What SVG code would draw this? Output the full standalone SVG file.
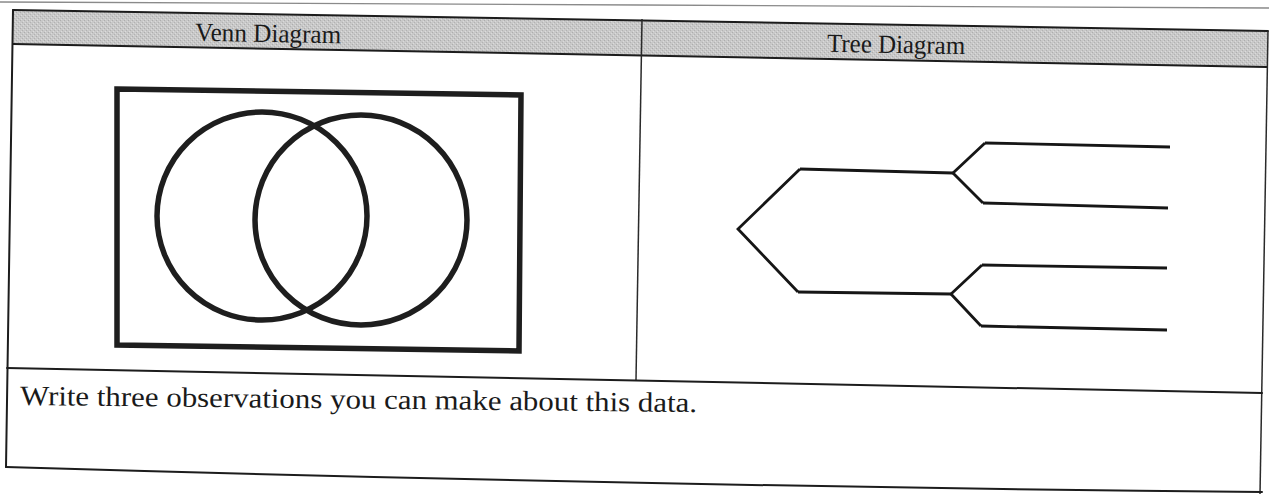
<svg xmlns="http://www.w3.org/2000/svg" width="1269" height="494" viewBox="0 0 1269 494">
  <style>
    .rule { stroke: #1c1c1c; stroke-width: 2; fill: none; stroke-linecap: round; }
    .thin { stroke: #2a2a2a; stroke-width: 1.5; fill: none; }
    .venn { stroke: #1e1e1e; stroke-width: 5.5; fill: none; }
    .tree { stroke: #161616; stroke-width: 2.8; fill: none; stroke-linejoin: miter; stroke-linecap: butt; }
    .hdr { font-family: "Liberation Serif", "DejaVu Serif", serif; font-size: 26px; fill: #1a1a1a; }
    .body { font-family: "Liberation Serif", "DejaVu Serif", serif; font-size: 28px; fill: #1a1a1a; }
  </style>
  <defs>
    <pattern id="dither" width="4" height="4" patternUnits="userSpaceOnUse">
      <rect width="4" height="4" fill="#c8c8c8"/>
      <rect x="0" y="0" width="1" height="1" fill="#adadad"/>
      <rect x="2" y="2" width="1" height="1" fill="#b2b2b2"/>
      <rect x="1" y="3" width="1" height="1" fill="#dcdcdc"/>
      <rect x="3" y="1" width="1" height="1" fill="#dadada"/>
    </pattern>
  </defs>
  <rect width="1269" height="494" fill="#ffffff"/>
  <!-- scan artifact line at top -->
  <path d="M0 2 L640 5 L1269 8" stroke="#8a8a8a" stroke-width="1.3" fill="none"/>

  <g id="header-row">
    <polygon points="13,10 1268,31 1267,67 13,44" fill="url(#dither)"/>
    <g id="venn-header">
      <text class="hdr" x="268" y="42" text-anchor="middle" textLength="146" lengthAdjust="spacingAndGlyphs" transform="rotate(1 268 42)">Venn Diagram</text>
    </g>
    <g id="tree-header">
      <text class="hdr" x="896" y="53" text-anchor="middle" textLength="138" lengthAdjust="spacingAndGlyphs" transform="rotate(1 896 53)">Tree Diagram</text>
    </g>
  </g>

  <g id="table-rules">
    <line class="rule" x1="13" y1="10" x2="1268" y2="31"/>
    <line class="rule" x1="13" y1="44" x2="1267" y2="67"/>
    <line class="rule" x1="13" y1="10" x2="6" y2="467"/>
    <line class="thin" x1="1268" y1="31" x2="1260" y2="494"/>
    <line class="thin" x1="642" y1="19" x2="636" y2="380"/>
    <line class="rule" x1="7" y1="368" x2="1262" y2="393"/>
    <path class="rule" d="M6 467 Q640 486 1262 492"/>
  </g>

  <g id="venn-diagram">
    <polygon class="venn" points="117,89 521,95 519,351 117,345" stroke-width="6"/>
    <ellipse class="venn" cx="262" cy="216" rx="105" ry="104"/>
    <ellipse class="venn" cx="361" cy="220" rx="106" ry="105"/>
  </g>

  <g id="connectors">
    <polyline class="tree" points="800,169 738,229 798,292"/>
    <line class="tree" x1="800" y1="169" x2="953" y2="173"/>
    <line class="tree" x1="798" y1="292" x2="951" y2="294"/>
    <polyline class="tree" points="985,143 953,173 983,203"/>
    <line class="tree" x1="985" y1="143" x2="1170" y2="147"/>
    <line class="tree" x1="983" y1="203" x2="1168" y2="208"/>
    <polyline class="tree" points="982,265 951,294 981,326"/>
    <line class="tree" x1="982" y1="265" x2="1167" y2="268"/>
    <line class="tree" x1="981" y1="326" x2="1167" y2="330"/>
  </g>

  <g id="prompt">
    <text class="body" x="20" y="405" textLength="677" lengthAdjust="spacingAndGlyphs" transform="rotate(0.6 20 405)">Write three observations you can make about this data.</text>
  </g>
</svg>
